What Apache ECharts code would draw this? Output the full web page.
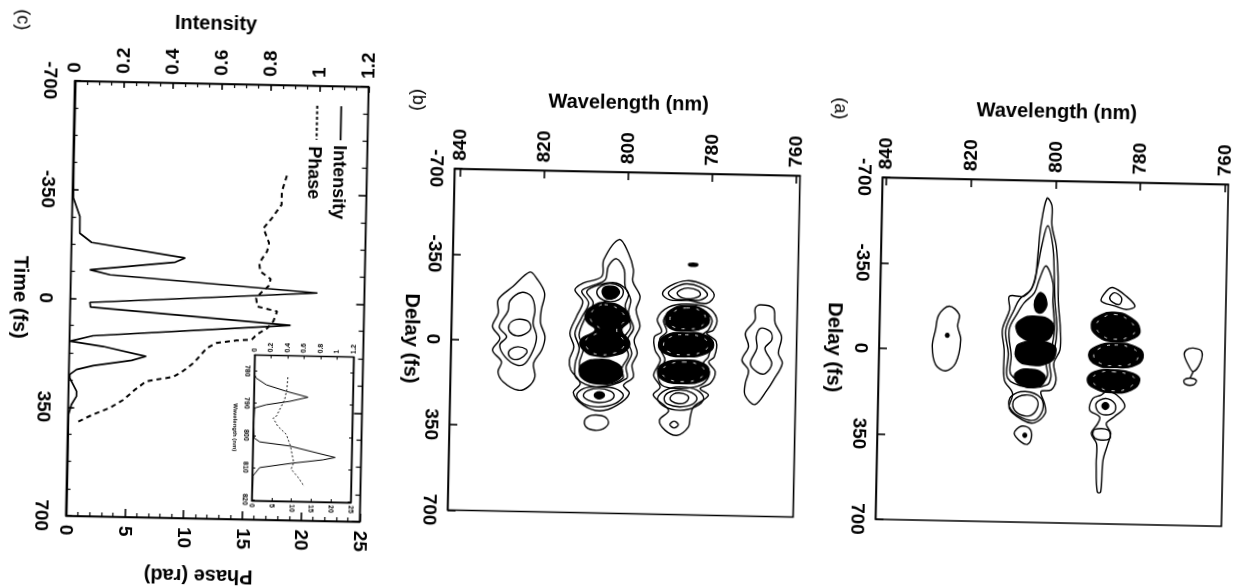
<!DOCTYPE html>
<html><head><meta charset="utf-8">
<style>
html,body{margin:0;padding:0;background:#fff;width:1242px;height:587px;overflow:hidden}
#c{position:absolute;left:-40px;top:-40px;width:1322px;height:667px;transform-origin:661px 333.5px;transform:rotate(1.17deg)}
</style>
<script src="https://cdn.jsdelivr.net/npm/echarts@6/dist/echarts.min.js"></script>
</head><body><div id="c"></div>
<script>
// Panel (c): main pulse
const timeIntensity=[-700,-424,-323,-264,-210,-181,-137,-123,-93,-78,-33,12,27,73,119,138,153,182,196,215,229,245,256,299,315,342,374,476,700];
const intensity=[0.004,0.003,0.004,0.032,0.033,0.082,0.465,0.425,0.077,0.16,1.008,0.08,0.083,0.901,0.096,0.002,0.138,0.314,0.255,0.099,0.031,0.004,0.004,0.033,0.033,0.013,0.002,0.003,0.003];
const timePhase=[-409,-357,-315,-271,-238,-191,-164,-126,-99,-75,-53,-30,-13,14,29,61,83,105,121,125,134,151,200,227,246,262,290,323,350,373,399];
const phase=[18.2,17.8,17.8,17,16.3,16.8,16.65,16,16.1,17,16.85,16.2,15.8,15.9,17.6,17.3,16.8,15.9,15.5,14.2,12.5,11.7,10.6,9.7,8.9,6.6,5.65,4.7,3.55,2.1,0.74];
// Panel (c): inset spectrum
const insetWaveI=[781.2,782.2,784.2,786.1,787.8,789.2,790.4,791.5,796.1,800.8,802,803.1,806.4,807.2,808.4,810,812.6,819.8];
const insetI=[0.005,0.026,0.149,0.393,0.657,0.436,0.153,0.012,0.004,0.012,0.083,0.447,1,0.853,0.49,0.089,0.01,0.005];
const insetWaveP=[781.7,785.6,788.7,793.9,794.5,797,799.5,803.1,808.2,810.3,812.8,815.6];
const insetP=[8.5,8.3,7.8,5.8,5,6.2,8.4,9.5,10.4,9.8,11.6,13.2];
// Tick labels
const wavelengthTicks=[840,820,800,780,760];
const insetWaveTicks=[780,790,800,810,820];
// Panel (b) contours: [wavelength nm, delay fs]
const bContours=[
[[822.9,-282],[821.3,-258],[819.3,-197],[820,-128],[820.1,-73],[819,-19],[819.7,36],[821.6,92],[821.2,147],[822.7,188],[825.1,203],[828.7,170],[830,129],[829.2,88],[831.4,41],[829.7,-8],[831.5,-56],[830.2,-111],[830.3,-166],[826.8,-222]],
[[824.8,-198],[822.4,-182],[821.5,-128],[821.9,-73],[821,-18],[821.7,36],[823.6,93],[825.6,100],[828.4,67],[829.7,19],[828.1,-15],[829.9,-55],[827.9,-121],[827.5,-163]],
[[825,-88],[823,-79],[822.4,-52],[823.8,-27],[825.7,-20],[827.4,-36],[827.6,-64],[826.6,-82]],
[[825.4,25],[823.4,35],[823.3,51],[824.9,74],[826.6,75],[827.6,56],[827.1,36]],
[[801.8,-423],[799.6,-369],[798.3,-300],[798.4,-252],[796.6,-191],[797.5,-136],[796.5,-68],[797.8,-12],[797,42],[798.2,91],[797.8,139],[800.1,174],[798.7,207],[801.6,257],[805.6,281],[809.6,259],[812,209],[810.4,170],[812.7,116],[813.1,75],[812.1,20],[813.1,-35],[811.6,-104],[810.2,-166],[812.1,-213],[810.2,-241],[805.8,-270],[805.4,-339]],
[[802.4,-344],[800.5,-300],[800.2,-231],[798.8,-177],[799.3,-122],[798,-60],[799.4,-12],[798.3,43],[799.6,98],[799.4,146],[806.5,183],[811.3,150],[811.7,89],[810.8,26],[811.9,-35],[810.4,-99],[808.8,-160],[810.5,-208],[808.5,-228],[805,-256],[804.3,-312]],
[[802.2,-244],[799.4,-204],[800.1,-149],[798.7,-67],[800.4,-12],[799.1,50],[800.6,105],[800.3,146],[804.5,171],[809.7,150],[810.7,88],[809.8,26],[810.9,-28],[809.6,-97],[807.7,-160],[809.3,-207],[806.2,-236]],
[[803.8,-243],[801.4,-231],[800.6,-206],[801.7,-176],[804.1,-168],[806.1,-181],[806.9,-208],[805.8,-232]],
[[806.1,183],[802.1,188],[800.1,215],[802,250],[806,265],[809.6,253],[811.2,219],[809.6,191]],
[[805.9,189],[803.3,198],[802.3,216],[803.2,237],[805.8,247],[808.4,238],[809.6,219],[808.5,198]],
[[806.5,298],[804.3,306],[803.5,330],[804.7,354],[806.6,361],[808.6,351],[809.2,324],[808.2,304]],
[[785.6,-260],[781.6,-245],[779,-204],[780.7,-169],[785.1,-179],[789.5,-180],[791.3,-204],[789.5,-237]],
[[785.6,-247],[782.4,-235],[780.6,-204],[782.3,-182],[785.5,-183],[788.2,-183],[789.9,-207],[788.3,-232]],
[[785.2,-230],[782.8,-220],[782.3,-202],[783.9,-188],[786.3,-188],[787.8,-206],[787,-222]],
[[785.5,-164],[780.7,-153],[778.3,-108],[779,-60],[780.6,-46],[778.3,-12],[778.7,50],[780,71],[778.4,111],[779.5,159],[781.9,181],[779.9,208],[783.4,257],[784.1,298],[784.5,340],[787.2,375],[790,355],[791.4,314],[789.3,273],[793,212],[791.4,178],[793,130],[791.5,68],[792.8,27],[793,-28],[791.3,-49],[792.4,-101],[789.8,-150]],
[[785.5,-147],[781.5,-139],[779.4,-101],[780.2,-60],[781.5,-39],[779.6,-12],[780.1,50],[781.2,75],[779.8,112],[780.7,153],[783.1,175],[787.5,183],[791,170],[791.9,122],[790.4,67],[791.4,27],[791.7,-21],[790.1,-49],[790.9,-97],[789,-136]],
[[786.7,176],[782.6,188],[781,222],[783,257],[786.5,272],[790.2,259],[792,226],[790.2,191]],
[[786.6,189],[783.9,198],[782.6,222],[783.8,248],[786.6,258],[789.4,249],[790.4,225],[789.4,200]],
[[786.8,201],[785,209],[784.6,223],[785.4,240],[787,245],[788.6,235],[789,222],[788.2,206]],
[[787.9,317],[786.9,331],[787.9,345],[788.9,331]],
[[768,-167],[764.9,-154],[764.4,-93],[762.8,-38],[763.5,30],[762.5,71],[764.5,140],[766,182],[768.8,242],[771.2,205],[771.2,157],[770.5,102],[772.1,61],[770.6,5],[771.4,-50],[769.2,-105],[769.2,-153]],
[[767.8,-71],[765.5,-58],[765.1,-24],[766.7,11],[765,72],[766.5,114],[768.5,108],[770.1,74],[768.6,11],[768.8,-36]]
];
const bBlobs=[
[[804.9,-164],[800.5,-142],[799,-94],[800.8,-52],[798.9,-5],[799.5,29],[801.9,50],[806.6,57],[809.8,33],[810.5,-8],[807.1,-50],[809.2,-85],[809.4,-119],[807.7,-149]],
[[805.8,70],[801.8,85],[800.4,120],[801.7,154],[805.7,169],[809.3,156],[810.7,122],[809.8,87]],
[[803.8,-232],[801.7,-217],[802.1,-190],[804.1,-178],[805.4,-194],[805.4,-222]],
[[805.8,203],[804.6,216],[805.8,232],[807,217]],
[[785.1,-330],[783.2,-330],[783.2,-322],[785.1,-322]],
[[785.5,-157],[781.5,-142],[780,-101],[781.4,-67],[785.4,-55],[789.3,-63],[790.5,-98],[789.3,-138]],
[[785.7,-47],[780.6,-36],[778.9,1],[780.5,36],[785.6,52],[790.4,40],[792,6],[790.4,-33]],
[[786,66],[781.2,78],[779.8,112],[781.2,147],[785.9,162],[790.7,150],[792.1,115],[790.7,81]]
];
const bFlecks=[
[[785.5,-148],[782,-135],[781,-101],[782.3,-72],[785.4,-63],[788.6,-70],[789.4,-98],[788.6,-130]],
[[785.7,-38],[781.6,-28],[780.2,1],[781.6,30],[785.6,44],[789.4,34],[790.8,6],[789.4,-26]],
[[786,74],[782.2,85],[781,112],[782.2,140],[785.9,154],[789.7,143],[791,115],[789.7,88]],
[[805,-155],[801.5,-135],[800.2,-94],[802,-52],[800.2,-5],[800.7,25],[802.6,43],[806.6,49],[808.8,27],[809.3,-8],[806,-50],[808,-85],[808.2,-115],[806.9,-142]]
];
// Panel (a) contours: [wavelength nm, delay fs]
const aContours=[
[[824.6,-178],[822.2,-145],[822.5,-97],[821.7,-42],[822.8,54],[825.1,87],[827.5,63],[828.4,-12],[827.7,-81],[827,-142]],
[[802,-628],[800.8,-599],[800.7,-517],[799.6,-434],[799,-311],[798.8,-201],[798.2,-92],[798.2,-9],[799.6,46],[799,115],[800.1,156],[802.5,164],[801.6,212],[801.4,253],[803.9,292],[806.7,282],[809.9,235],[809.2,173],[811.2,119],[811.4,-5],[811.9,-87],[810.3,-169],[810.4,-224],[806.9,-226],[804.6,-281],[803.9,-390],[803.3,-515]],
[[801.7,-516],[800.4,-434],[799.9,-311],[799.6,-201],[799,-92],[799.5,-9],[800.6,47],[800.2,101],[801.1,136],[805.7,147],[810.4,112],[810.4,9],[811.1,-86],[809.2,-170],[808,-212],[805.3,-254],[804,-337],[803,-433]],
[[801.9,-351],[800.2,-283],[800.1,-201],[799.6,-91],[800.3,-8],[801.4,47],[801,95],[802.1,123],[805.7,131],[809.7,96],[809.7,22],[810.3,-87],[808.4,-156],[806.9,-198],[804.5,-240],[803.4,-296]],
[[806.2,179],[803.6,192],[803.2,226],[804.7,261],[807.1,261],[808.9,235],[808.8,200]],
[[806.2,165],[802.4,191],[802,239],[803.9,281],[807.5,268],[809.9,228],[809.6,187]],
[[807,307],[805,316],[804.5,350],[805.4,380],[807,371],[808.6,337]],
[[786,-268],[782.8,-234],[780.7,-194],[782.7,-179],[785.5,-193],[788.7,-212],[787.5,-253]],
[[785.6,-247],[783.9,-227],[784.3,-200],[785.9,-207],[786.7,-227]],
[[787,158],[784.6,171],[782.6,218],[785,260],[786.9,289],[785.8,329],[786.4,371],[787.5,440],[787.9,570],[788.7,570],[789.1,454],[789.1,372],[790.4,331],[788.9,289],[788.5,262],[790.9,235],[790.2,188],[788.2,172]],
[[787.2,186],[785,206],[785,240],[787,254],[788.9,241],[789.4,207]],
[[789.6,314],[786.4,316],[786,350],[788.8,355],[790,338]],
[[766.7,-27],[764.7,-14],[765,34],[766.6,69],[767.8,42],[768.8,1],[768.3,-19]],
[[767.3,96],[765.8,106],[766.6,124],[768.5,120],[768.7,104]],
[[766.6,69],[767.3,96]]
];
const aBlobs=[
[[804.4,-144],[800.4,-125],[800,-77],[802.3,-42],[806.7,-50],[808.7,-95],[807.6,-129]],
[[804.3,-41],[799.9,-29],[799.2,6],[801,47],[805.4,55],[808.2,35],[808.6,-12],[807.4,-33]],
[[805.4,73],[802.2,88],[801.7,122],[804,147],[807.3,138],[808.8,111],[808.1,83]],
[[802.9,-241],[801.7,-214],[801.9,-173],[803.6,-159],[804.5,-192],[803.9,-227]],
[[785.5,-167],[781.5,-145],[779.4,-98],[780.6,-64],[785.3,-48],[789.3,-67],[790.9,-115],[789,-152]],
[[785.3,-41],[780.5,-29],[778.5,4],[780,46],[785.2,59],[789.6,49],[791.4,9],[789.6,-26]],
[[785.6,69],[780.8,81],[779.2,108],[781.1,150],[785.9,162],[789.8,146],[791.6,112],[789.9,77]],
[[787.2,203],[786.4,217],[787.2,231],[788,217]],
[[825.2,-65],[824.6,-65],[824.6,-53],[825.2,-53]],
[[806.4,338],[805.8,338],[805.8,350],[806.4,350]]
];
const aFlecks=[
[[785.5,-158],[782.3,-138],[780.6,-98],[781.6,-71],[785.3,-57],[788.3,-72],[789.7,-112],[788,-146]],
[[785.3,-33],[781.5,-23],[779.7,4],[781,40],[785.2,51],[788.6,43],[790.2,9],[788.6,-20]],
[[785.6,77],[781.8,87],[780.4,108],[782,143],[785.9,154],[788.8,140],[790.4,112],[788.9,83]]
];

const O=40; // canvas offset inside the rotated sheet
const FONT='"Liberation Sans",Arial,sans-serif';
const G=(x0,x1,y0,y1,bw)=>({left:x0+O,top:y0+O,width:x1-x0,height:y1-y0,show:true,borderColor:'#000',borderWidth:bw});
const grids=[G(70.6,364.5,92,527,1.6),G(256,355,362.5,508,1.2),G(452,797.6,172,513.5,1.6),G(880,1226,172,514,1.6)];
const lab=(size,margin,extra)=>Object.assign({show:true,rotate:-90,fontSize:size,fontWeight:'bold',color:'#000',fontFamily:FONT,margin:margin},extra||{});
const nm=(size,extra)=>Object.assign({fontSize:size,fontWeight:'bold',color:'#000',fontFamily:FONT},extra||{});
const tick=(len,w,extra)=>Object.assign({show:true,inside:true,length:len,lineStyle:{color:'#000',width:w||1.6}},extra||{});
const minor=(n,len)=>({show:true,splitNumber:n,length:len,lineStyle:{color:'#000',width:1.2}});
const baseV=()=>({type:'value',splitLine:{show:false},axisLine:{show:true,onZero:false,lineStyle:{color:'#000',width:1.4}}});

const xAxis=[
 Object.assign(baseV(),{gridIndex:0,position:'top',min:0,max:1.2,interval:0.2,axisTick:tick(6),minorTick:minor(4,4),axisLabel:lab(19,8,{formatter:v=>String(+v.toFixed(1))}),name:'Intensity',nameLocation:'middle',nameGap:50,nameTextStyle:nm(20,{padding:[0,14,0,0]})}),
 Object.assign(baseV(),{gridIndex:0,position:'bottom',min:0,max:25,interval:5,axisTick:tick(8),minorTick:minor(5,4),axisLabel:lab(19,9)}),
 Object.assign(baseV(),{gridIndex:1,position:'top',min:0,max:1.2,interval:0.2,axisTick:tick(3,1),axisLabel:lab(7,3,{formatter:v=>String(+v.toFixed(1))})}),
 Object.assign(baseV(),{gridIndex:1,position:'bottom',min:0,max:25,interval:5,axisTick:tick(3,1),axisLabel:lab(7,3)}),
 Object.assign(baseV(),{gridIndex:2,position:'top',inverse:true,min:759.2,max:841.3,axisTick:tick(8,1.6,{customValues:wavelengthTicks}),axisLabel:lab(19,8,{customValues:wavelengthTicks}),name:'Wavelength (nm)',nameLocation:'middle',nameGap:59,nameTextStyle:nm(20)}),
 Object.assign(baseV(),{gridIndex:3,position:'top',inverse:true,min:759.2,max:841,axisTick:tick(8,1.6,{customValues:wavelengthTicks}),axisLabel:lab(19,8,{customValues:wavelengthTicks}),name:'Wavelength (nm)',nameLocation:'middle',nameGap:59,nameTextStyle:nm(20)})
];
const yAxis=[
 Object.assign(baseV(),{gridIndex:0,position:'left',inverse:true,min:-700,max:700,interval:350,axisTick:tick(6),minorTick:minor(4,4),axisLabel:lab(19,16),name:'Time (fs)',nameLocation:'middle',nameGap:41,nameRotate:-90,nameTextStyle:nm(20)}),
 Object.assign(baseV(),{gridIndex:0,position:'right',inverse:true,min:-700,max:700,interval:350,axisTick:tick(8),minorTick:minor(4,5),axisLabel:{show:false}}),
 Object.assign(baseV(),{gridIndex:1,position:'left',inverse:true,min:775,max:820.3,axisTick:tick(3,1,{customValues:insetWaveTicks}),axisLabel:lab(7,4,{customValues:insetWaveTicks}),name:'Wavelength (nm)',nameLocation:'middle',nameGap:15,nameRotate:-90,nameTextStyle:nm(6)}),
 Object.assign(baseV(),{gridIndex:1,position:'right',inverse:true,min:775,max:820.3,axisTick:tick(3,1,{customValues:insetWaveTicks}),axisLabel:{show:false}}),
 Object.assign(baseV(),{gridIndex:2,position:'left',inverse:true,min:-700,max:700,interval:350,axisTick:tick(8),axisLabel:lab(19,9),name:'Delay (fs)',nameLocation:'middle',nameGap:30,nameRotate:-90,nameTextStyle:nm(20)}),
 Object.assign(baseV(),{gridIndex:3,position:'left',inverse:true,min:-700,max:700,interval:350,axisTick:tick(8),axisLabel:lab(19,9),name:'Delay (fs)',nameLocation:'middle',nameGap:35,nameRotate:-90,nameTextStyle:nm(20)})
];
const contourSeries=(list,kind,axis,name)=>({
  type:'custom',name:name,coordinateSystem:'cartesian2d',xAxisIndex:axis,yAxisIndex:axis,silent:true,clip:false,
  data:list.map(c=>c[0]),encode:{x:0,y:1},
  renderItem:(p,api)=>({type:'polygon',shape:{points:list[p.dataIndex].map(q=>api.coord(q)),smooth:kind==='line'?0.35:0.5},
    style:kind==='fill'?{fill:'#000',stroke:'#000',lineWidth:1.4}:
          kind==='fleck'?{fill:'none',stroke:'#fff',lineWidth:0.9,lineDash:[3,7]}:
          {fill:'none',stroke:'#000',lineWidth:1.4}})
});
const zip=(a,b)=>a.map((v,i)=>[v,b[i]]);
const lineS=(name,xi,yi,data,w,type,smooth)=>({type:'line',name:name,xAxisIndex:xi,yAxisIndex:yi,data:data,symbol:'none',smooth:smooth||false,silent:true,lineStyle:{color:'#000',width:w,type:type||'solid'}});
const rot=-Math.PI/2;
const gt=(x,y,t,size,weight,r)=>({type:'text',x:x+O,y:y+O,rotation:r===undefined?rot:r,silent:true,style:{text:t,fontSize:size,fontWeight:weight||'normal',fontFamily:FONT,fill:'#000',align:'center',verticalAlign:'middle'}});
const gl=(x,y0,y1,w,dash)=>({type:'line',silent:true,shape:{x1:x+O,y1:y0+O,x2:x+O,y2:y1+O},style:{stroke:'#000',lineWidth:w,lineDash:dash||null}});
const chart=echarts.init(document.getElementById('c'));
chart.setOption({
 animation:false,grid:grids,xAxis:xAxis,yAxis:yAxis,
 graphic:[
  gt(17.4,32,'(c)',18),gt(414,104,'(b)',18),gt(836,104,'(a)',18),
  gl(337.5,112,146,1.8),gl(313.5,112,146,2,[3,2.5]),
  gt(335.7,188,'Intensity',18,'bold'),gt(310.5,179,'Phase',18,'bold'),
  gt(204,584,'Phase (rad)',20,'bold',Math.PI)
 ],
 series:[
  lineS('Intensity',0,0,zip(intensity,timeIntensity),1.7),
  lineS('Phase',1,0,zip(phase,timePhase),2,[5,4]),
  lineS('Intensity (inset)',2,2,zip(insetI,insetWaveI),1),
  lineS('Phase (inset)',3,2,zip(insetP,insetWaveP),0.9,[2,2]),
  contourSeries(bContours,'line',4,'b contours'),
  contourSeries(bBlobs,'fill',4,'b peaks'),
  contourSeries(bFlecks,'fleck',4,'b ripples'),
  contourSeries(aContours,'line',5,'a contours'),
  contourSeries(aBlobs,'fill',5,'a peaks'),
  contourSeries(aFlecks,'fleck',5,'a ripples')
 ]
});
</script></body></html>
